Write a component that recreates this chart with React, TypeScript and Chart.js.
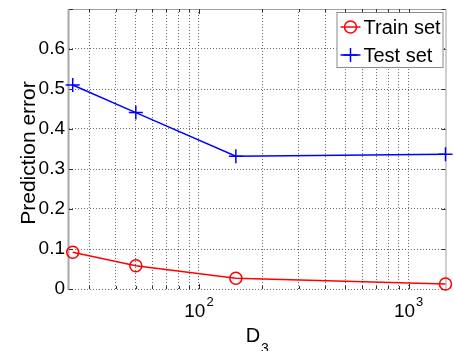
import React, { useEffect, useRef } from 'react';
import { Chart, registerables } from 'chart.js';

Chart.register(...registerables);

// ---- data ----
const xValues = [25, 50, 150, 1500];
const trainError = [0.092, 0.058, 0.027, 0.0125];
const testError = [0.51, 0.441, 0.332, 0.337];
const seriesLabels = ['Train set', 'Test set'];
const seriesColors = ['#ff0000', '#0000ff'];

const xGridValues = [30, 40, 50, 60, 70, 80, 90, 100, 200, 300, 400, 500, 600, 700, 800, 900, 1000];
const xMajorValues = [100, 1000];
const xMajorBase = ['10', '10'];
const xMajorExp = ['2', '3'];
const yTickValues = [0, 0.1, 0.2, 0.3, 0.4, 0.5, 0.6, 0.7];
const yLabelMax = 0.6;

const xTitleMain = 'D';
const xTitleSub = '3';
const yTitle = 'Prediction error';

const X_MIN = 24;
const X_MAX = 1500;
const Y_MIN = 0;
const Y_MAX = 0.7;

const FONT = '"Liberation Sans", Arial, Helvetica, sans-serif';

const decorPlugin = {
  id: 'decor',
  beforeDatasetsDraw(chart: any) {
    const ctx = chart.ctx;
    const { left, right, top, bottom } = chart.chartArea;
    const xs = chart.scales.x;
    const ys = chart.scales.y;
    ctx.save();
    // box
    ctx.strokeStyle = '#a0a0a0';
    ctx.lineWidth = 1;
    ctx.beginPath();
    ctx.moveTo(left, top + 0.5);
    ctx.lineTo(right + 0.5, top + 0.5);
    ctx.lineTo(right + 0.5, bottom);
    ctx.stroke();
    ctx.fillStyle = '#a8a8a8';
    ctx.fillRect(left - 1.5, top, 2, bottom - top + 1);
    // tick marks
    ctx.strokeStyle = '#303030';
    ctx.lineWidth = 1;
    ctx.beginPath();
    xGridValues.forEach((v) => {
      const px = Math.round(xs.getPixelForValue(v)) + 0.5;
      const len = xMajorValues.includes(v) ? 5 : 3;
      ctx.moveTo(px, bottom);
      ctx.lineTo(px, bottom - len);
      ctx.moveTo(px, top);
      ctx.lineTo(px, top + len);
    });
    yTickValues.forEach((v) => {
      const py = Math.round(ys.getPixelForValue(v)) + 0.5;
      ctx.moveTo(left, py);
      ctx.lineTo(left + 4, py);
      ctx.moveTo(right, py);
      ctx.lineTo(right - 4, py);
    });
    ctx.stroke();
    ctx.restore();
  },
  afterDraw(chart: any) {
    const ctx = chart.ctx;
    const { left, right, top, bottom } = chart.chartArea;
    const xs = chart.scales.x;
    ctx.save();
    ctx.fillStyle = '#000';
    ctx.textBaseline = 'alphabetic';
    ctx.textAlign = 'left';
    // x tick labels with superscripts
    xMajorValues.forEach((v, i) => {
      const px = xs.getPixelForValue(v);
      ctx.font = `19px ${FONT}`;
      const w1 = ctx.measureText(xMajorBase[i]).width;
      ctx.font = `13px ${FONT}`;
      const w2 = ctx.measureText(xMajorExp[i]).width;
      const start = px - (w1 + w2 + 1) / 2;
      ctx.font = `19px ${FONT}`;
      ctx.fillText(xMajorBase[i], start, bottom + 28);
      ctx.font = `13px ${FONT}`;
      ctx.fillText(xMajorExp[i], start + w1 + 1, bottom + 17);
    });
    // x title with subscript
    ctx.font = `20px ${FONT}`;
    const wd = ctx.measureText(xTitleMain).width;
    ctx.font = `14px ${FONT}`;
    const ws = ctx.measureText(xTitleSub).width;
    const cx = (left + right) / 2;
    const sx = cx - (wd + ws + 1) / 2;
    ctx.font = `20px ${FONT}`;
    ctx.fillText(xTitleMain, sx, bottom + 53);
    ctx.font = `14px ${FONT}`;
    ctx.fillText(xTitleSub, sx + wd + 1, bottom + 64);
    // y title
    ctx.save();
    ctx.translate(35, (top + bottom) / 2 + 4);
    ctx.rotate(-Math.PI / 2);
    ctx.textAlign = 'center';
    ctx.font = `21px ${FONT}`;
    ctx.fillText(yTitle, 0, 0);
    ctx.restore();
    // legend
    const lx = right - 109;
    const ly = top + 3;
    const lw = 107;
    const lh = 56;
    ctx.fillStyle = '#ffffff';
    ctx.fillRect(lx, ly, lw, lh);
    ctx.strokeStyle = '#8a8a8a';
    ctx.lineWidth = 1;
    ctx.strokeRect(lx + 0.5, ly + 0.5, lw - 1, lh - 1);
    const rowY = [ly + 15, ly + 43];
    seriesLabels.forEach((lab, i) => {
      const y = rowY[i];
      ctx.strokeStyle = seriesColors[i];
      ctx.lineWidth = 1.5;
      ctx.beginPath();
      ctx.moveTo(lx + 4, y);
      ctx.lineTo(lx + 24, y);
      ctx.stroke();
      ctx.beginPath();
      if (i === 0) {
        ctx.arc(lx + 14, y, 6, 0, Math.PI * 2);
      } else {
        ctx.moveTo(lx + 14 - 7, y);
        ctx.lineTo(lx + 14 + 7, y);
        ctx.moveTo(lx + 14, y - 7);
        ctx.lineTo(lx + 14, y + 7);
      }
      ctx.stroke();
      ctx.fillStyle = '#000';
      ctx.font = `20px ${FONT}`;
      ctx.textAlign = 'left';
      ctx.textBaseline = 'middle';
      ctx.fillText(lab, lx + 27, y + 1);
    });
    ctx.restore();
  },
};

export default function App() {
  const ref = useRef<HTMLCanvasElement | null>(null);
  useEffect(() => {
    if (!ref.current) return;
    const chart = new Chart(ref.current, {
      type: 'line',
      data: {
        datasets: [
          {
            label: seriesLabels[0],
            data: xValues.map((x, i) => ({ x, y: trainError[i] })),
            borderColor: seriesColors[0],
            backgroundColor: 'rgba(0,0,0,0)',
            borderWidth: 1.5,
            pointStyle: 'circle',
            pointRadius: 6,
            pointBorderWidth: 1.5,
            pointBorderColor: seriesColors[0],
            pointBackgroundColor: 'rgba(0,0,0,0)',
            fill: false,
            tension: 0,
            clip: false,
          } as any,
          {
            label: seriesLabels[1],
            data: xValues.map((x, i) => ({ x, y: testError[i] })),
            borderColor: seriesColors[1],
            backgroundColor: 'rgba(0,0,0,0)',
            borderWidth: 1.5,
            pointStyle: 'cross',
            pointRadius: 7,
            pointBorderWidth: 1.5,
            pointBorderColor: seriesColors[1],
            fill: false,
            tension: 0,
            clip: false,
          } as any,
        ],
      },
      options: {
        animation: false,
        responsive: false,
        devicePixelRatio: 1,
        layout: { padding: { left: 0, right: 7, top: 9, bottom: 62 } },
        plugins: { legend: { display: false }, tooltip: { enabled: false } },
        scales: {
          x: {
            type: 'logarithmic',
            min: X_MIN,
            max: X_MAX,
            afterBuildTicks: (s: any) => {
              s.ticks = xGridValues.map((v) => ({ value: v }));
            },
            afterFit: (s: any) => {
              s.height = 0;
              s.paddingLeft = 0;
              s.paddingRight = 0;
            },
            ticks: { display: false },
            grid: { color: '#6a6a6a', lineWidth: 1, drawTicks: false },
            border: { display: false, dash: [1, 2] },
          },
          y: {
            type: 'linear',
            min: Y_MIN,
            max: Y_MAX,
            afterBuildTicks: (s: any) => {
              s.ticks = yTickValues.map((v) => ({ value: v }));
            },
            afterFit: (s: any) => {
              s.width = 69;
              s.paddingTop = 0;
              s.paddingBottom = 0;
            },
            ticks: {
              padding: 4,
              color: '#000',
              font: { family: FONT, size: 19 },
              callback: (v: any) => {
                const n = Number(v);
                if (n > yLabelMax + 1e-9) return '';
                return n === 0 ? '0' : n.toFixed(1);
              },
            },
            grid: { color: '#6a6a6a', lineWidth: 1, drawTicks: false },
            border: { display: false, dash: [1, 2] },
          },
        },
      },
      plugins: [decorPlugin],
    });
    return () => chart.destroy();
  }, []);
  return (
    <div style={{ position: 'absolute', left: 0, top: 0, width: 454, height: 351, background: '#fff' }}>
      <canvas ref={ref} width={454} height={351} style={{ display: 'block' }} />
    </div>
  );
}
